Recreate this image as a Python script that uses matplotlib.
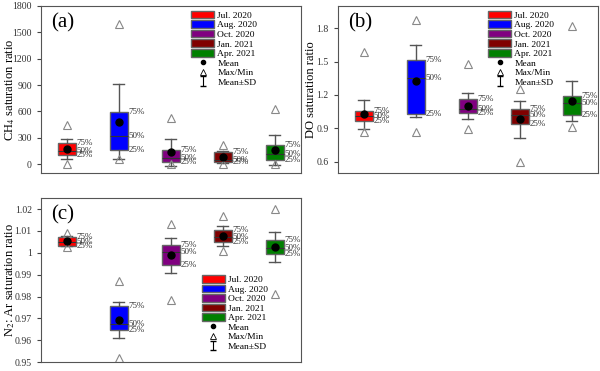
import numpy as np
import matplotlib
matplotlib.use('Agg')
import matplotlib.pyplot as plt
from matplotlib.patches import Patch
from matplotlib.lines import Line2D

plt.rcParams['font.family'] = ['Liberation Serif', 'DejaVu Serif']
plt.rcParams['mathtext.fontset'] = 'stix'

months = ['Jul. 2020', 'Aug. 2020', 'Oct. 2020', 'Jan. 2021', 'Apr. 2021']
colors = ['#ff0000', '#0000ff', '#800080', '#800000', '#008000']

# CH4 saturation ratio
ch4_q1 = [104, 165, 23, 19, 46]
ch4_med = [154, 315, 73, 50, 119]
ch4_q3 = [242, 592, 158, 142, 215]
ch4_mean = [173, 481, 135, 81, 162]
ch4_sd = [115, 427, 153, 65, 173]
ch4_max = [442, 1590, 519, 223, 627]
ch4_min = [4, 55, 4, 0, 0]

# DO saturation ratio
do_q1 = [0.967, 1.027, 1.036, 0.943, 1.018]
do_med = [1.012, 1.352, 1.072, 1.018, 1.131]
do_q3 = [1.057, 1.513, 1.164, 1.072, 1.194]
do_mean = [1.027, 1.325, 1.101, 0.982, 1.146]
do_sd = [0.131, 0.326, 0.120, 0.167, 0.180]
do_max = [1.585, 1.878, 1.475, 1.257, 1.818]
do_min = [0.863, 0.866, 0.893, 0.600, 0.916]

# N2:Ar saturation ratio
n2_q1 = [1.0031, 0.9646, 0.9945, 1.0047, 0.9995]
n2_med = [1.0047, 0.9674, 1.0003, 1.0074, 1.0024]
n2_q3 = [1.0071, 0.9755, 1.0036, 1.0104, 1.0059]
n2_mean = [1.0053, 0.9694, 0.9989, 1.0078, 1.0027]
n2_sd = [0.0022, 0.0082, 0.0080, 0.0046, 0.0070]
n2_max = [1.0089, 0.9872, 1.0133, 1.0168, 1.0200]
n2_min = [1.0025, 0.9521, 0.9782, 1.0006, 0.9813]

edge = '#666666'


def draw_panel(ax, q1, med, q3, mean, sd, vmax, vmin, ylim, yticks, ylabel, tag, leg_pos, lab_x):
    pos = np.arange(1, 6)
    stats = []
    for i in range(5):
        stats.append({'med': med[i], 'q1': q1[i], 'q3': q3[i], 'mean': mean[i],
                      'whislo': mean[i] - sd[i], 'whishi': mean[i] + sd[i], 'fliers': []})
    bp = ax.bxp(stats, positions=pos, widths=0.35, patch_artist=True, showmeans=True,
                showfliers=False,
                boxprops=dict(edgecolor=edge, linewidth=1.0),
                medianprops=dict(color='#333333', linewidth=0.8),
                whiskerprops=dict(color='#555555', linewidth=1.0),
                capprops=dict(color='#555555', linewidth=1.0),
                capwidths=0.22,
                meanprops=dict(marker='o', markerfacecolor='black', markeredgecolor='black',
                               markersize=5))
    for b, c in zip(bp['boxes'], colors):
        b.set_facecolor(c)
    ax.plot(pos, vmax, linestyle='none', marker='^', markerfacecolor='none',
            markeredgecolor='#888888', markersize=6, markeredgewidth=0.8)
    ax.plot(pos, vmin, linestyle='none', marker='^', markerfacecolor='none',
            markeredgecolor='#888888', markersize=6, markeredgewidth=0.8)
    for i in range(5):
        xt = pos[i] + 0.19
        for v, s in [(q3[i], '75%'), (med[i], '50%'), (q1[i], '25%')]:
            ax.text(xt, v, s, fontsize=6.5, color='#333333', va='center', ha='left')
    ax.set_xlim(0.5, 5.5)
    ax.set_ylim(*ylim)
    ax.set_yticks(yticks)
    ax.yaxis.set_major_formatter(plt.FormatStrFormatter('%g'))
    ax.set_xticks([])
    ax.tick_params(axis='y', labelsize=7, length=3, colors='#444444', labelcolor='#333333')
    for sp in ax.spines.values():
        sp.set_color('#555555')
    ax.set_ylabel(ylabel, fontsize=9)
    ax.yaxis.set_label_coords(lab_x, 0.5)
    ax.text(0.04, 0.90, tag, transform=ax.transAxes, fontsize=15, va='center', ha='left')

    handles = [Patch(facecolor=c, edgecolor=edge) for c in colors]
    handles.append(Line2D([], [], linestyle='none', marker='o', color='black', markersize=3))
    handles.append(Line2D([], [], linestyle='none', marker='^', markerfacecolor='none',
                          markeredgecolor='black', markersize=4, markeredgewidth=0.6))
    eb = ax.errorbar([np.nan], [np.nan], yerr=[1], fmt='none', ecolor='black',
                     elinewidth=0.8, capsize=2.5)
    handles.append(eb)
    labels = months + ['Mean', 'Max/Min', 'Mean\u00b1SD']
    ax.legend(handles, labels, loc='upper left', bbox_to_anchor=leg_pos, frameon=False,
              fontsize=6.8, handlelength=2.4, handleheight=0.85, handletextpad=0.35,
              labelspacing=0.05, borderpad=0, borderaxespad=0)


fig = plt.figure(figsize=(6, 3.71), dpi=100)
ax_a = fig.add_axes([0.068, 0.534, 0.433, 0.450])
ax_b = fig.add_axes([0.563, 0.534, 0.433, 0.450])
ax_c = fig.add_axes([0.068, 0.024, 0.433, 0.442])

draw_panel(ax_a, ch4_q1, ch4_med, ch4_q3, ch4_mean, ch4_sd, ch4_max, ch4_min,
           (-100, 1800), np.arange(0, 1801, 300), 'CH$_4$ saturation ratio', '(a)',
           (0.58, 0.97), -0.092)
draw_panel(ax_b, do_q1, do_med, do_q3, do_mean, do_sd, do_max, do_min,
           (0.5, 2.0), [0.6, 0.9, 1.2, 1.5, 1.8], 'DO saturation ratio', '(b)',
           (0.58, 0.97), -0.08)
draw_panel(ax_c, n2_q1, n2_med, n2_q3, n2_mean, n2_sd, n2_max, n2_min,
           (0.95, 1.025), [0.95, 0.96, 0.97, 0.98, 0.99, 1.0, 1.01, 1.02],
           'N$_2$: Ar saturation ratio', '(c)', (0.62, 0.53), -0.092)

fig.savefig('out.png', dpi=100)
